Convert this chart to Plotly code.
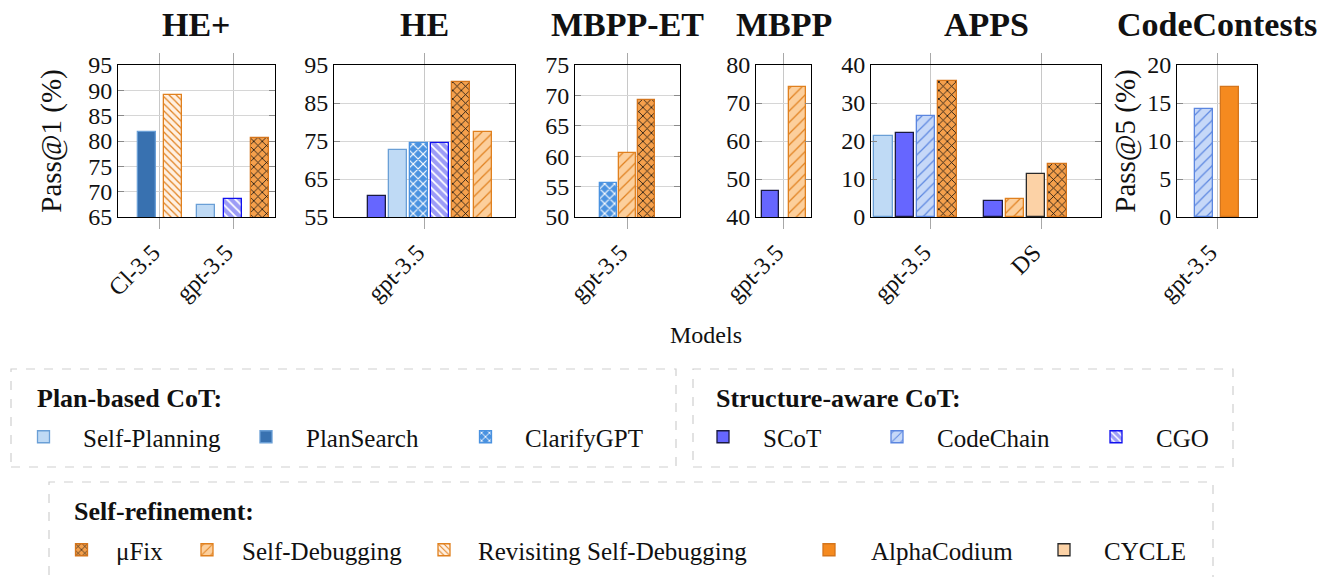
import plotly.graph_objects as go

W, H = 1327, 577
FONT = "Liberation Serif"

# ---- data -------------------------------------------------------------
panels = ["HE+", "HE", "MBPP-ET", "MBPP", "APPS", "CodeContests"]

he_plus_models = ["Cl-3.5", "gpt-3.5"]
he_plus_methods = [["PlanSearch", "Revisiting Self-Debugging"],
                   ["Self-Planning", "CGO", "μFix"]]
he_plus_values = [[81.7, 89.0], [67.3, 68.5, 80.5]]

he_models = ["gpt-3.5"]
he_methods = [["SCoT", "Self-Planning", "ClarifyGPT", "CGO", "μFix", "Self-Debugging"]]
he_values = [[60.5, 72.7, 74.4, 74.6, 90.4, 77.4]]

mbpp_et_models = ["gpt-3.5"]
mbpp_et_methods = [["ClarifyGPT", "Self-Debugging", "μFix"]]
mbpp_et_values = [[55.6, 60.5, 69.2]]

mbpp_models = ["gpt-3.5"]
mbpp_methods = [["SCoT", "Self-Debugging"]]
mbpp_values = [[46.9, 74.3]]

apps_models = ["gpt-3.5", "DS"]
apps_methods = [["Self-Planning", "SCoT", "CodeChain", "μFix"],
                ["SCoT", "Self-Debugging", "CYCLE", "μFix"]]
apps_values = [[21.3, 22.0, 26.5, 35.9], [4.3, 4.7, 11.3, 14.0]]

cc_models = ["gpt-3.5"]
cc_methods = [["CodeChain", "AlphaCodium"]]
cc_values = [[14.2, 17.1]]

y_ranges = [(65, 95, 5), (55, 95, 10), (50, 75, 5), (40, 80, 10), (0, 40, 10), (0, 20, 5)]

# legend groups
plan_based = ["Self-Planning", "PlanSearch", "ClarifyGPT"]
structure_aware = ["SCoT", "CodeChain", "CGO"]
self_refinement = ["μFix", "Self-Debugging", "Revisiting Self-Debugging", "AlphaCodium", "CYCLE"]

# ---- styles -----------------------------------------------------------
styles = {
    "Self-Planning": dict(color="#bfdaf5", line="#6a9fd6"),
    "PlanSearch": dict(color="#3871b0", line="#6a9fd6"),
    "ClarifyGPT": dict(color="#4a92e0", line="#4a92e0", shape="x", fg="#ffffff", size=7, sol=0.3),
    "SCoT": dict(color="#6666ff", line="#1a1a40"),
    "CodeChain": dict(color="#c6d8f8", line="#5b86e0", shape="/", fg="#5b86e0", size=8, sol=0.15),
    "CGO": dict(color="#9c9cf6", line="#1010ee", shape="\\", fg="#ffffff", size=6, sol=0.3),
    "μFix": dict(color="#f5a04c", line="#d4751c", shape="x", fg="#111111", size=6, sol=0.25),
    "Self-Debugging": dict(color="#fccf9c", line="#e0801e", shape="/", fg="#e0801e", size=8, sol=0.15),
    "Revisiting Self-Debugging": dict(color="#fff0e2", line="#e0801e", shape="\\", fg="#e0801e", size=5, sol=0.25),
    "AlphaCodium": dict(color="#f58a1f", line="#d4751c"),
    "CYCLE": dict(color="#fcd2a6", line="#2a2a2a"),
}

# ---- layout geometry --------------------------------------------------
dom_px = [(118, 275), (334, 515), (575, 680), (756, 811), (871, 1101), (1177, 1257)]
x_ranges = [(-0.575, 1.575), (-0.5, 0.5), (-0.5, 0.5), (-0.5, 0.5), (-0.545, 1.545), (-0.5, 0.5)]
# bar width, slot step, group shift (px)
bar_geom = [(18, 26.8, 0), (18, 21.2, 5), (16.5, 18.8, 0), (17, 27, 0), (18.5, 21.2, -15.5), (18, 26, -0.5)]
plot_top, plot_bot = 65, 217

panel_data = [
    (he_plus_models, he_plus_methods, he_plus_values),
    (he_models, he_methods, he_values),
    (mbpp_et_models, mbpp_et_methods, mbpp_et_values),
    (mbpp_models, mbpp_methods, mbpp_values),
    (apps_models, apps_methods, apps_values),
    (cc_models, cc_methods, cc_values),
]

legend_order = plan_based + structure_aware + self_refinement
legend_ids = {m: ("legend" if i == 0 else f"legend{i + 1}") for i, m in enumerate(legend_order)}

fig = go.Figure()
shown = set()

for p, (models, methods, values) in enumerate(panel_data):
    ax = "" if p == 0 else str(p + 1)
    d0, d1 = dom_px[p]
    r0, r1 = x_ranges[p]
    ppu = (d1 - d0) / (r1 - r0)
    bw, step, shift = bar_geom[p]
    # collect bars per method, each placed in its slot inside the model group
    per_method = {}
    for g, (meths, vals) in enumerate(zip(methods, values)):
        n = len(meths)
        for i, (m, v) in enumerate(zip(meths, vals)):
            centre = (shift + (i - (n - 1) / 2) * step) / ppu
            per_method.setdefault(m, []).append((g, v, centre - bw / ppu / 2))
    for m in legend_order:
        if m not in per_method:
            continue
        s = styles[m]
        xs = [b[0] for b in per_method[m]]
        ys = [b[1] for b in per_method[m]]
        offs = [b[2] for b in per_method[m]]
        marker = dict(color=s["color"], line=dict(color=s["line"], width=1.3))
        if "shape" in s:
            marker["pattern"] = dict(shape=s["shape"], fgcolor=s["fg"], bgcolor=s["color"],
                                     size=s["size"], solidity=s["sol"], fillmode="replace")
        fig.add_trace(go.Bar(
            x=xs, y=ys, offset=offs, width=[bw / ppu] * len(xs), name=m,
            marker=marker, xaxis="x" + ax, yaxis="y" + ax,
            legend=legend_ids[m], legendgroup=m, showlegend=m not in shown,
        ))
        shown.add(m)

    ylo, yhi, dt = y_ranges[p]
    fig.layout["xaxis" + ax] = dict(
        domain=[d0 / W, d1 / W], range=[r0, r1], anchor="y" + ax, automargin=False,
        tickvals=list(range(len(models))), ticktext=models, tickangle=-45, ticklabelshift=-7,
        showgrid=True, gridcolor="#c8c8c8", gridwidth=1,
        ticks="outside", ticklen=11, tickcolor="#a8a8a8", tickwidth=1,
        showline=True, linecolor="#000000", linewidth=1, mirror="ticks",
        zeroline=False, tickfont=dict(family=FONT, size=24, color="#111"),
    )
    fig.layout["yaxis" + ax] = dict(
        domain=[1 - plot_bot / H, 1 - plot_top / H], range=[ylo, yhi], anchor="x" + ax,
        automargin=False,
        tickvals=list(range(ylo, yhi + 1, dt)), showgrid=True, gridcolor="#d6d6d6", gridwidth=1,
        ticks="inside", ticklen=6, tickcolor="#8a8a8a", tickwidth=1,
        showline=True, linecolor="#000000", linewidth=1, mirror="ticks",
        zeroline=False, tickfont=dict(family=FONT, size=24, color="#111"),
    )

fig.layout.yaxis.title = dict(text="Pass@1 (%)", font=dict(family=FONT, size=29, color="#111"), standoff=18)
fig.layout.yaxis6.title = dict(text="Pass@5 (%)", font=dict(family=FONT, size=29, color="#111"), standoff=3)

annotations = []
for p, name in enumerate(panels):
    d0, d1 = dom_px[p]
    annotations.append(dict(text=f"<b>{name}</b>", x=(d0 + d1) / 2 / W, y=1 - 25 / H,
                            xref="paper", yref="paper", showarrow=False,
                            xanchor="center", yanchor="middle",
                            font=dict(family=FONT, size=34, color="#111")))
annotations.append(dict(text="Models", x=706 / W, y=1 - 335 / H, xref="paper", yref="paper",
                        showarrow=False, xanchor="center", yanchor="middle",
                        font=dict(family=FONT, size=24, color="#111")))

# legend group headers
for text, hx, hy in [("Plan-based CoT:", 35, 398), ("Structure-aware CoT:", 714, 398),
                     ("Self-refinement:", 72, 511)]:
    annotations.append(dict(text=f"<b>{text}</b>", x=hx / W, y=1 - hy / H, xref="paper", yref="paper",
                            xanchor="left", yanchor="middle", showarrow=False,
                            font=dict(family=FONT, size=26, color="#111")))

# dashed frames around the legend groups
shapes = []
for x0, y0, x1, y1 in [(11, 369, 676, 467), (693, 369, 1233, 467), (49, 482, 1213, 590)]:
    shapes.append(dict(type="rect", xref="paper", yref="paper", x0=x0 / W, x1=x1 / W,
                       y0=1 - y1 / H, y1=1 - y0 / H, line=dict(color="#cfcfcf", width=1.2, dash="dash")))

# legend entries: swatch centre x, label start x, row centre y (px)
entry_pos = {
    "Self-Planning": (45.5, 85, 437), "PlanSearch": (268, 308, 437), "ClarifyGPT": (487.5, 527, 437),
    "SCoT": (725, 765, 437), "CodeChain": (899, 939, 437), "CGO": (1118, 1158, 437),
    "μFix": (83.5, 118, 550), "Self-Debugging": (209, 244, 550),
    "Revisiting Self-Debugging": (446, 480, 550),
    "AlphaCodium": (831, 873, 550), "CYCLE": (1066, 1106, 550),
}
legends = {}
for m in legend_order:
    cx, tx, ly = entry_pos[m]
    iw = max(30, 2 * (tx - cx - 5))
    lx = cx - iw / 2 - 7
    legends[legend_ids[m]] = dict(
        x=lx / W, y=1 - ly / H, xanchor="left", yanchor="middle", orientation="h",
        bgcolor="rgba(0,0,0,0)", borderwidth=0, itemwidth=iw,
        font=dict(family=FONT, size=25, color="#111"),
    )

fig.update_layout(
    width=W, height=H, margin=dict(l=0, r=0, t=0, b=0, autoexpand=False),
    paper_bgcolor="white", plot_bgcolor="white",
    barmode="overlay", bargap=0,
    annotations=annotations, shapes=shapes,
    font=dict(family=FONT, color="#111"),
    **legends,
)

fig.write_html("out.html")
